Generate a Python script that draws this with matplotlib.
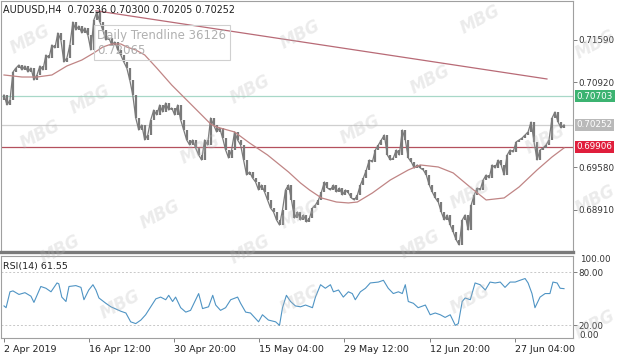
import numpy as np
import matplotlib
matplotlib.use("Agg")
import matplotlib.pyplot as plt
from matplotlib.transforms import blended_transform_factory as btf

# ---------------- data ----------------
title_text = "AUDUSD,H4  0.70236 0.70300 0.70205 0.70252"

first_open = 0.70640
close = [
    0.70723, 0.70565, 0.70644, 0.71085, 0.71148, 0.71196, 0.71117, 0.71180, 0.71085, 0.71148,
    0.70959, 0.71038, 0.71180, 0.71117, 0.71353, 0.71306, 0.71511, 0.71464, 0.71700, 0.71590,
    0.71243, 0.71306, 0.71511, 0.71873, 0.71747, 0.71810, 0.71700, 0.71779, 0.71668, 0.71432,
    0.71905, 0.72031, 0.71873, 0.71747, 0.71590, 0.71621, 0.71511, 0.71558, 0.71432, 0.71353,
    0.71243, 0.71148, 0.70959, 0.70723, 0.70360, 0.70171, 0.70250, 0.70014, 0.70092, 0.70329,
    0.70486, 0.70408, 0.70565, 0.70455, 0.70597, 0.70486, 0.70518, 0.70408, 0.70565, 0.70329,
    0.70171, 0.70014, 0.69935, 0.70014, 0.69888, 0.69777, 0.69698, 0.70014, 0.69935, 0.70360,
    0.70250, 0.70140, 0.70203, 0.70045, 0.69856, 0.69730, 0.69856, 0.70140, 0.70014, 0.69935,
    0.69698, 0.69462, 0.69509, 0.69415, 0.69352, 0.69226, 0.69304, 0.69194, 0.69068, 0.68942,
    0.68879, 0.68753, 0.68674, 0.68910, 0.69226, 0.69304, 0.69068, 0.68784, 0.68879, 0.68753,
    0.68832, 0.68721, 0.68784, 0.68942, 0.68989, 0.69068, 0.69194, 0.69352, 0.69257, 0.69226,
    0.69304, 0.69194, 0.69257, 0.69147, 0.69226, 0.69178, 0.69100, 0.69068, 0.69147, 0.69304,
    0.69415, 0.69541, 0.69698, 0.69667, 0.69856, 0.69935, 0.70014, 0.70092, 0.69777, 0.69698,
    0.69730, 0.69856, 0.69777, 0.70171, 0.70014, 0.69730, 0.69667, 0.69572, 0.69620, 0.69572,
    0.69541, 0.69462, 0.69304, 0.69194, 0.69100, 0.69036, 0.68879, 0.68753, 0.68832, 0.68674,
    0.68564, 0.68438, 0.68359, 0.68753, 0.68832, 0.68595, 0.68989, 0.69147, 0.69257, 0.69226,
    0.69383, 0.69462, 0.69415, 0.69620, 0.69572, 0.69698, 0.69620, 0.69462, 0.69777, 0.69856,
    0.69824, 0.69982, 0.70014, 0.70045, 0.70092, 0.70140, 0.70297, 0.69982, 0.69698, 0.69856,
    0.69888, 0.69935, 0.70014, 0.70360, 0.70455, 0.70297, 0.70203, 0.70252,
]

ma_bar = [0, 6, 11, 16, 21, 26, 30, 33, 36, 39, 41, 44, 47, 51, 56, 61, 66, 69, 71, 77,
          82, 88, 95, 99, 102, 106, 111, 115, 118, 123, 129, 135, 139, 145, 150, 156, 161,
          167, 172, 178, 183, 187]
ma_val = [0.71038, 0.71006, 0.71006, 0.71038, 0.71180, 0.71274, 0.71385, 0.71479, 0.71527,
          0.71527, 0.71479, 0.71432, 0.71353, 0.71148, 0.70880, 0.70644, 0.70408, 0.70266,
          0.70218, 0.70140, 0.69966, 0.69777, 0.69509, 0.69336, 0.69226, 0.69100, 0.69036,
          0.69021, 0.69036, 0.69178, 0.69383, 0.69541, 0.69620, 0.69588, 0.69494, 0.69257,
          0.69068, 0.69100, 0.69273, 0.69541, 0.69746, 0.69888]

trend_bar = [30.7, 181.3]
trend_val = [0.72050, 0.70975]
trend_label = ["Daily Trendline 36126", "0.72065"]

level_green = 0.70703
level_bid = 0.70252
level_red = 0.69906
price_ticks = [0.71590, 0.70920, 0.69580, 0.68910]

rsi_bar = [0.0, 0.7, 2.0, 3.0, 5.0, 7.0, 9.0, 10.0, 12.3, 14.0, 15.7, 17.7, 18.3, 19.3, 20.7,
           21.7, 24.0, 25.7, 26.7, 28.3, 29.7, 30.7, 31.7, 34.0, 35.7, 37.7, 39.0, 40.7, 42.3,
           44.0, 45.7, 47.3, 49.0, 50.7, 52.3, 54.0, 55.0, 56.3, 57.3, 59.0, 60.7, 62.3, 64.0,
           65.0, 66.3, 68.3, 69.7, 70.7, 72.3, 74.0, 75.7, 78.0, 79.0, 80.7, 82.3, 85.0, 86.3,
           88.3, 90.7, 92.0, 93.0, 94.3, 95.7, 97.3, 99.0, 100.7, 103.0, 104.0, 105.7, 107.3,
           109.0, 110.0, 111.7, 113.3, 115.0, 116.3, 117.3, 119.0, 120.7, 122.3, 125.0, 126.7,
           128.3, 130.0, 131.7, 133.0, 134.0, 135.0, 136.7, 138.3, 140.7, 142.3, 144.0, 145.7,
           147.3, 149.0, 150.7, 151.7, 153.0, 154.0, 155.7, 157.3, 159.0, 160.7, 162.3, 164.0,
           165.7, 167.3, 169.0, 170.7, 172.3, 174.0, 175.0, 176.3, 177.3, 179.0, 180.7, 182.3,
           183.3, 184.7, 185.7, 187.0]
rsi_val = [42, 40, 58, 59, 55, 57, 53, 46, 64, 62, 58, 68, 67, 52, 47, 64, 65, 63, 49, 60,
           66, 60, 51, 45, 41, 38, 36, 34, 24, 22, 26, 32, 41, 50, 52, 49, 54, 47, 52, 40,
           35, 37, 49, 56, 39, 41, 54, 43, 37, 40, 49, 52, 45, 35, 34, 24, 32, 26, 24, 20,
           40, 54, 47, 42, 41, 43, 40, 52, 66, 62, 66, 58, 60, 52, 58, 56, 49, 58, 62, 68,
           69, 71, 62, 56, 58, 56, 66, 47, 45, 40, 43, 32, 34, 32, 29, 32, 20, 22, 47, 51,
           49, 68, 66, 60, 69, 68, 69, 63, 69, 69, 71, 73, 68, 56, 40, 52, 56, 56, 69, 68,
           62, 61.55]
rsi_title = "RSI(14) 61.55"
rsi_levels = [80, 20]

date_bar = [0, 28.3, 56.7, 85.3, 113.7, 142.3, 170.7]
date_labels = ["2 Apr 2019", "16 Apr 12:00", "30 Apr 20:00", "15 May 04:00",
               "29 May 12:00", "12 Jun 20:00", "27 Jun 04:00"]

# ---------------- figure ----------------
W, H = 617, 361
fig = plt.figure(figsize=(W / 100, H / 100), dpi=100)
fig.patch.set_facecolor("white")

def fx(px):
    return px / W

def fy(py):
    return 1 - py / H

ax = fig.add_axes([fx(1), fy(252), fx(573) - fx(1), fy(1) - fy(252)])
ax2 = fig.add_axes([fx(1), fy(338), fx(573) - fx(1), fy(256) - fy(338)])

xlim = (-1, 190)
for a in (ax, ax2):
    a.set_xlim(*xlim)
    a.set_facecolor("none")
    for s in a.spines.values():
        s.set_color("#a0a0a0")
        s.set_linewidth(0.8)
ax.spines["bottom"].set_color("#7a7a7a")
ax.spines["bottom"].set_linewidth(2.4)

ax.set_ylim(0.68248, 0.72204)

# faint translucent watermarks
wm_kw = dict(color="#b8b8b8", alpha=0.28, fontsize=12, fontweight="bold", rotation=28,
             ha="center", va="center", zorder=0, style="italic")
for (px, py) in [(30, 40), (300, 35), (480, 20), (595, 45),
                 (90, 100), (250, 90), (430, 80),
                 (40, 135), (200, 150), (360, 130), (545, 140),
                 (160, 215), (300, 215), (470, 195), (595, 200),
                 (60, 250), (250, 250), (420, 245),
                 (120, 305), (300, 300), (470, 300), (595, 325)]:
    fig.text(fx(px), fy(py), "MBG", **wm_kw)

# horizontal levels
ax.axhline(level_green, color="#a8d8c8", lw=0.9, zorder=1)
ax.axhline(level_bid, color="#cfcfcf", lw=0.9, zorder=1)
ax.axhline(level_red, color="#b4505e", lw=0.9, zorder=1)

# trendline
ax.plot(trend_bar, trend_val, color="#b86a76", lw=0.9, zorder=2)

# candles
c = np.asarray(close)
o = np.r_[first_open, c[:-1]]
x = np.arange(len(c))
ax.vlines(x, np.minimum(o, c), np.maximum(o, c), color="#7a7a7a", lw=1.6, zorder=3)
ax.plot(x, c, color="#7a7a7a", lw=0.9, zorder=3)

# moving average
ax.plot(ma_bar, ma_val, color="#c08585", lw=0.9, zorder=4)

# trendline label box (offset below the trendline's anchor point)
ax.annotate(trend_label[0] + "\n" + trend_label[1], xy=(trend_bar[0], trend_val[0]),
            xytext=(1, -23), textcoords="offset points",
            color="#b0b0b0", fontsize=8.5, ha="left", va="center", linespacing=1.2,
            bbox=dict(boxstyle="square,pad=0.3", fc="none", ec="#d0d0d0", lw=0.8),
            zorder=5)

# title
ax.text(0.004, 0.985, title_text, transform=ax.transAxes, fontsize=6.9,
        color="#202020", ha="left", va="top", zorder=6)

# right price axis
ax.yaxis.tick_right()
ax.set_yticks(price_ticks)
ax.set_yticklabels([f"{v:.5f}" for v in price_ticks])
ax.tick_params(axis="y", length=3, width=0.7, color="#808080", pad=1,
               labelsize=6.3, labelcolor="#333333")
ax.set_xticks([])

tr = btf(ax.transAxes, ax.transData)
for val, col in [(level_green, "#3cb371"), (level_bid, "#b9b9b9"), (level_red, "#e01e3c")]:
    ax.text(1.006, val, f"{val:.5f}", transform=tr, fontsize=6.3, color="white",
            ha="left", va="center", clip_on=False,
            bbox=dict(boxstyle="square,pad=0.2", fc=col, ec="none"))

# RSI panel
ax2.set_ylim(5.7, 98.5)
for lv in rsi_levels:
    ax2.axhline(lv, color="#c8c8c8", lw=0.7, ls=(0, (2, 2)))
ax2.plot(rsi_bar, rsi_val, color="#4f94c4", lw=0.8)
ax2.text(0.004, 0.93, rsi_title, transform=ax2.transAxes, fontsize=6.8,
         color="#202020", ha="left", va="top")
ax2.yaxis.tick_right()
ax2.set_yticks(rsi_levels)
ax2.set_yticklabels([f"{v:.2f}" for v in rsi_levels])
ax2.tick_params(axis="y", length=3, width=0.7, color="#808080", pad=1,
                labelsize=6.3, labelcolor="#333333")
ax2.text(1.012, fy(260), "100.00", transform=btf(ax2.transAxes, fig.transFigure),
         fontsize=6.3, color="#333333", ha="left", va="center")
ax2.text(1.012, fy(336), "0.00", transform=btf(ax2.transAxes, fig.transFigure),
         fontsize=6.3, color="#333333", ha="left", va="center")

ax2.set_xticks(date_bar)
ax2.set_xticklabels([])
ax2.tick_params(axis="x", length=3, width=0.7, color="#808080")
trx = btf(ax2.transData, fig.transFigure)
for b, lab in zip(date_bar, date_labels):
    ax2.text(b, fy(350), lab, transform=trx, fontsize=6.8, color="#222222",
             ha="left", va="center")

fig.savefig("out.png", dpi=100)
